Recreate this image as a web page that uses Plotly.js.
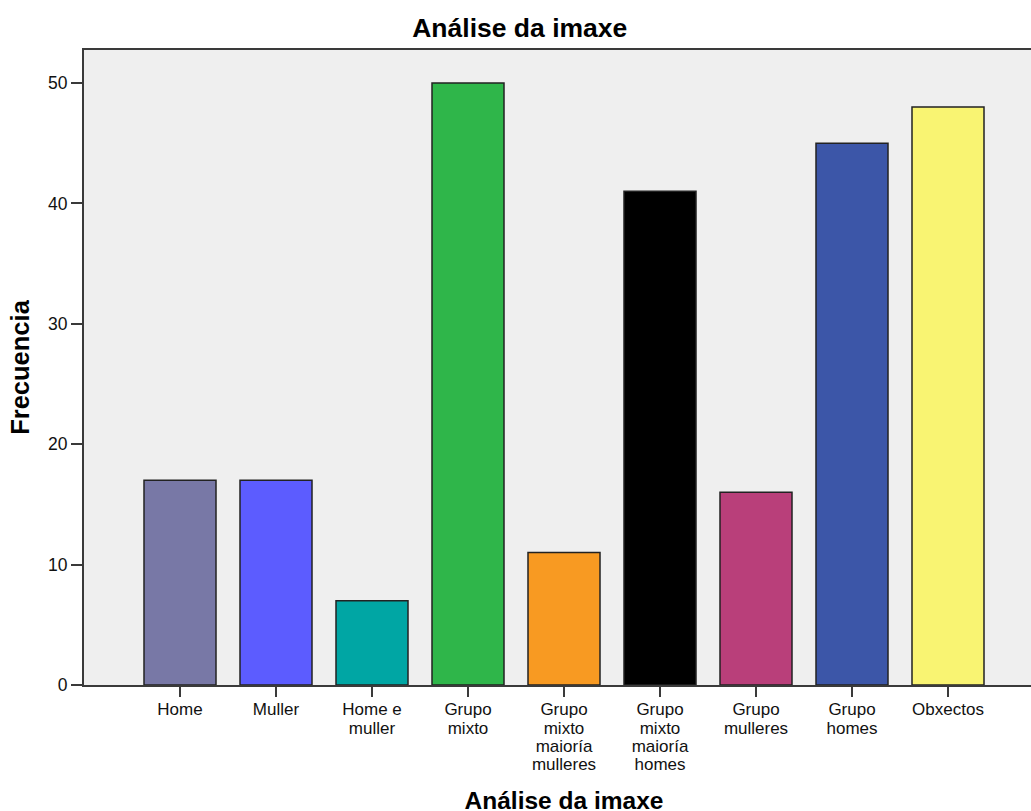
<!DOCTYPE html>
<html>
<head>
<meta charset="utf-8">
<script src="https://cdn.plot.ly/plotly-3.0.1.min.js"></script>
<style>
  html, body { margin: 0; padding: 0; overflow: hidden; background: #ffffff; }
  #chart { width: 1050px; height: 830px; }
</style>
</head>
<body>
<div id="chart"></div>
<script>
// Categorías e frecuencias
const categories = [
  "Home",
  "Muller",
  "Home e<br>muller",
  "Grupo<br>mixto",
  "Grupo<br>mixto<br>maioría<br>mulleres",
  "Grupo<br>mixto<br>maioría<br>homes",
  "Grupo<br>mulleres",
  "Grupo<br>homes",
  "Obxectos"
];
const frequencies = [17, 17, 7, 50, 11, 41, 16, 45, 48];
const barColors = [
  "#7878a6", "#5c5cff", "#00a6a4", "#2fb64a", "#f89a22",
  "#000000", "#b93f7a", "#3c56a8", "#f9f472"
];
const yTicks = [0, 10, 20, 30, 40, 50];

const textFont = "Liberation Sans, Arial, sans-serif";
// tighter line spacing for the wrapped category labels
const tickLineScale = 0.82;
const figHeight = 830;

const trace = {
  type: "bar",
  x: categories,
  y: frequencies,
  width: 0.75,
  marker: {
    color: barColors,
    line: { color: "#222222", width: 1.5 }
  },
  hoverinfo: "x+y"
};

const layout = {
  width: 1050,
  height: figHeight,
  margin: { l: 84, r: 6, t: 50, b: figHeight - 685 },
  paper_bgcolor: "#ffffff",
  plot_bgcolor: "#efefef",
  showlegend: false,
  title: {
    text: "<b>Análise da imaxe</b>",
    font: { family: textFont, size: 26.5, color: "#000000" },
    xref: "container",
    yref: "container",
    x: 0.495,
    y: 1 - 28 / figHeight,
    xanchor: "center",
    yanchor: "middle"
  },
  xaxis: {
    type: "category",
    range: [-1, 9],
    showgrid: false,
    zeroline: false,
    showline: true,
    linecolor: "#3a3a3a",
    linewidth: 2,
    mirror: true,
    ticks: "outside",
    ticklen: 10,
    tickwidth: 2,
    tickcolor: "#3a3a3a",
    tickangle: 0,
    ticklabelstandoff: -2,
    tickfont: { family: textFont, size: 17, color: "#111111" },
    automargin: false,
    title: {
      text: "<b>Análise da imaxe</b>",
      font: { family: textFont, size: 24.5, color: "#000000" },
      standoff: 7
    }
  },
  yaxis: {
    range: [0, 52.74],
    tickvals: yTicks,
    showgrid: false,
    zeroline: false,
    showline: true,
    linecolor: "#3a3a3a",
    linewidth: 2,
    mirror: true,
    ticks: "outside",
    ticklen: 11,
    tickwidth: 2,
    tickcolor: "#3a3a3a",
    tickfont: { family: textFont, size: 17.5, color: "#111111" },
    automargin: false,
    title: {
      text: "<b>Frecuencia</b>",
      font: { family: textFont, size: 25.5, color: "#000000" },
      standoff: 11
    }
  },
  bargap: 0.25
};

function tightenTickLines(gd) {
  gd.querySelectorAll(".xtick text tspan.line").forEach(function (ts) {
    if (!ts.hasAttribute("data-dy0")) {
      ts.setAttribute("data-dy0", ts.getAttribute("dy") || "0em");
    }
    const v = parseFloat(ts.getAttribute("data-dy0"));
    if (!isNaN(v)) ts.setAttribute("dy", (v * tickLineScale) + "em");
  });
}

const gd = document.getElementById("chart");
Plotly.newPlot(gd, [trace], layout, { displayModeBar: false }).then(function () {
  tightenTickLines(gd);
  gd.on("plotly_afterplot", function () { tightenTickLines(gd); });
});
</script>
</body>
</html>
